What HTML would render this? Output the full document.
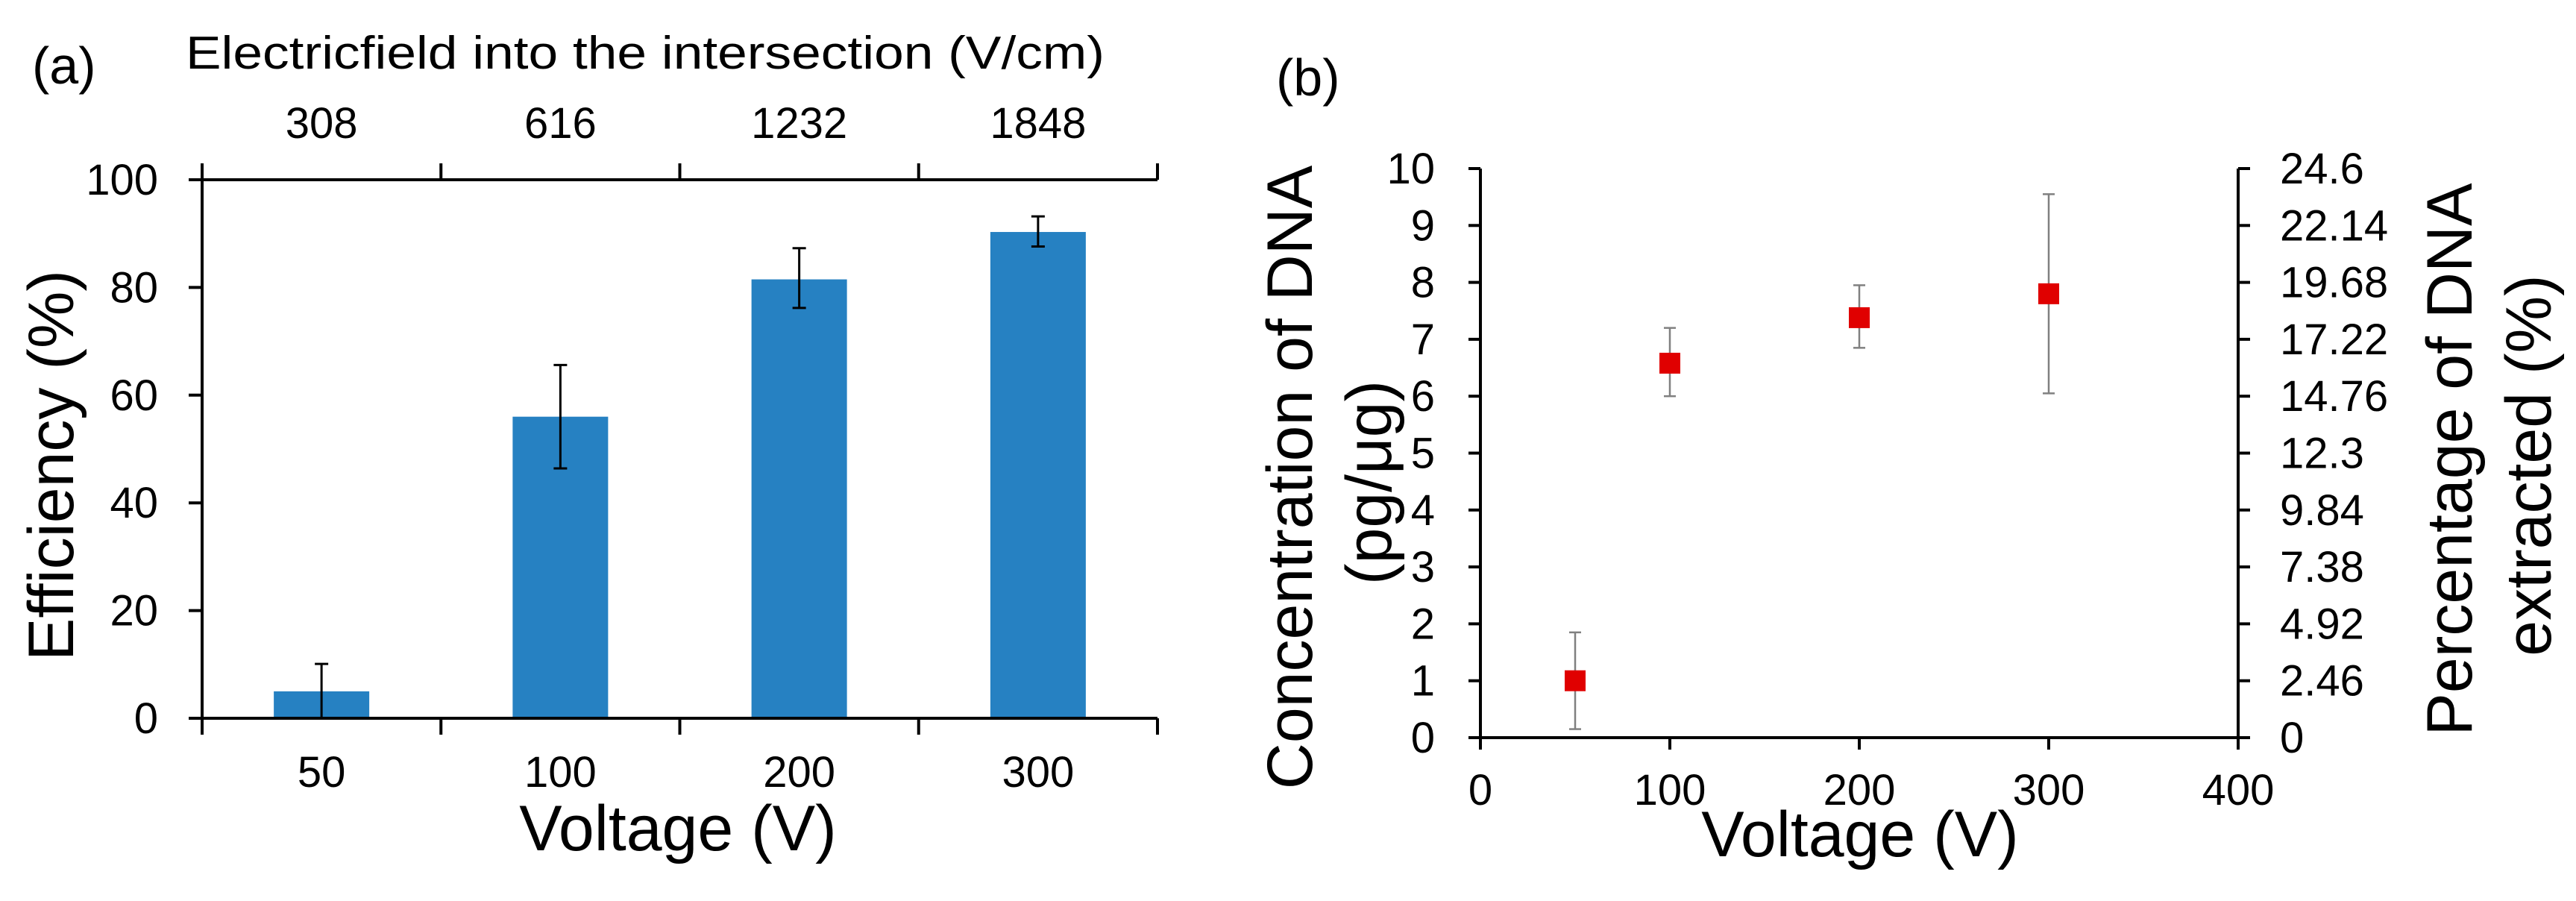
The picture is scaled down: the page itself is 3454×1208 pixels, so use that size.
<!DOCTYPE html>
<html><head><meta charset="utf-8"><style>
html,body{margin:0;padding:0;background:#fff;}
svg{display:block;font-family:"Liberation Sans",Arial,sans-serif;}
</style></head><body>
<svg id="fig" width="3454" height="1208" viewBox="0 0 3454 1208" xmlns="http://www.w3.org/2000/svg">
<g id="pa"></g>
<g id="pb"></g>
</svg>
<script>
// Panel (a) data
const aCategories = ["50","100","200","300"];
const aTopLabels = ["308","616","1232","1848"];
const aValues = [5, 56, 81.5, 90.3];
const aErrHigh = [10.1, 65.6, 87.3, 93.2];
const aErrLow = [0, 46.4, 76.2, 87.6];
const aYTicks = [0,20,40,60,80,100];
// Panel (b) data
const bX = [50,100,200,300];
const bY = [1.0, 6.58, 7.38, 7.8];
const bErrHigh = [1.85, 7.2, 7.95, 9.55];
const bErrLow = [0.15, 6.0, 6.85, 6.05];
const bXTicks = [0,100,200,300,400];
const bYTicks = [0,1,2,3,4,5,6,7,8,9,10];
const bY2Labels = ["0","2.46","4.92","7.38","9.84","12.3","14.76","17.22","19.68","22.14","24.6"];

const NS="http://www.w3.org/2000/svg";
function mk(parent,tag,attrs,text){const e=document.createElementNS(NS,tag);for(const k in attrs)e.setAttribute(k,attrs[k]);if(text!==undefined)e.textContent=text;parent.appendChild(e);return e;}

// ---- Panel A ----
const pa=document.getElementById('pa');
const aL=271,aR=1552,aT=241,aB=963;
const aBand=(aR-aL)/aCategories.length;
const ax=i=>aL+aBand*(i+0.5);
const ay=v=>aB-(v/100)*(aB-aT);
let t;
t=mk(pa,'text',{x:43,y:112,'font-size':70,fill:'#000'},'(a)');

t=mk(pa,'text',{x:249,y:92,'font-size':62,fill:'#000',textLength:1232,lengthAdjust:'spacingAndGlyphs'},'Electricfield into the intersection  (V/cm)');

aCategories.forEach((c,i)=>{
  const b=mk(pa,'rect',{x:ax(i)-64,y:ay(aValues[i]),width:128,height:aB-ay(aValues[i]),fill:'#2681c2'});
  
  const eg=mk(pa,'g',{stroke:'#000','stroke-width':3});
  
  mk(eg,'line',{x1:ax(i),x2:ax(i),y1:ay(aErrHigh[i]),y2:ay(aErrLow[i])});
  mk(eg,'line',{x1:ax(i)-9,x2:ax(i)+9,y1:ay(aErrHigh[i]),y2:ay(aErrHigh[i])});
  mk(eg,'line',{x1:ax(i)-9,x2:ax(i)+9,y1:ay(aErrLow[i]),y2:ay(aErrLow[i])});
  t=mk(pa,'text',{x:ax(i),y:1055,'font-size':58,'text-anchor':'middle'},c);
  
  t=mk(pa,'text',{x:ax(i),y:185,'font-size':58,'text-anchor':'middle'},aTopLabels[i]);
  
});
const aAx=mk(pa,'g',{stroke:'#000','stroke-width':4,fill:'none'});

mk(aAx,'line',{x1:aL,x2:aR,y1:aB,y2:aB});
mk(aAx,'line',{x1:aL,x2:aR,y1:aT,y2:aT});
mk(aAx,'line',{x1:aL,x2:aL,y1:aT-22,y2:aB+22});
for(let i=1;i<=aCategories.length;i++){const x=aL+aBand*i;mk(aAx,'line',{x1:x,x2:x,y1:aB,y2:aB+22});mk(aAx,'line',{x1:x,x2:x,y1:aT,y2:aT-22});}
aYTicks.forEach(v=>{
  mk(aAx,'line',{x1:aL-18,x2:aL,y1:ay(v),y2:ay(v)});
  t=mk(pa,'text',{x:212,y:ay(v)+20,'font-size':58,'text-anchor':'end'},String(v));
  
});
t=mk(pa,'text',{x:909,y:1140,'font-size':86,'text-anchor':'middle'},'Voltage  (V)');

t=mk(pa,'text',{x:0,y:0,'font-size':86,'text-anchor':'middle',transform:'translate(98,624) rotate(-90)'},'Efficiency  (%)');


// ---- Panel B ----
const pb=document.getElementById('pb');
const bL=1985,bR=3001,bT=226,bB=989;
const bx=v=>bL+(v/400)*(bR-bL);
const by=v=>bB-(v/10)*(bB-bT);
t=mk(pb,'text',{x:1711,y:128,'font-size':70},'(b)');

const bAx=mk(pb,'g',{stroke:'#000','stroke-width':4});

mk(bAx,'line',{x1:bL,x2:bR,y1:bB,y2:bB});
mk(bAx,'line',{x1:bL,x2:bL,y1:bT,y2:bB});
mk(bAx,'line',{x1:bR,x2:bR,y1:bT,y2:bB});
bYTicks.forEach((v,i)=>{
  mk(bAx,'line',{x1:bL-16,x2:bL,y1:by(v),y2:by(v)});
  mk(bAx,'line',{x1:bR,x2:bR+16,y1:by(v),y2:by(v)});
  t=mk(pb,'text',{x:1924,y:by(v)+20,'font-size':58,'text-anchor':'end'},String(v));
  
  t=mk(pb,'text',{x:3057,y:by(v)+20,'font-size':58},bY2Labels[i]);
  
});
bXTicks.forEach(v=>{
  mk(bAx,'line',{x1:bx(v),x2:bx(v),y1:bB,y2:bB+16});
  t=mk(pb,'text',{x:bx(v),y:1079,'font-size':58,'text-anchor':'middle'},String(v));
  
});
bX.forEach((xv,i)=>{
  const eg=mk(pb,'g',{stroke:'#808080','stroke-width':2.5});
  
  mk(eg,'line',{x1:bx(xv),x2:bx(xv),y1:by(bErrHigh[i]),y2:by(bErrLow[i])});
  mk(eg,'line',{x1:bx(xv)-8,x2:bx(xv)+8,y1:by(bErrHigh[i]),y2:by(bErrHigh[i])});
  mk(eg,'line',{x1:bx(xv)-8,x2:bx(xv)+8,y1:by(bErrLow[i]),y2:by(bErrLow[i])});
  const m=mk(pb,'rect',{x:bx(xv)-14,y:by(bY[i])-14,width:28,height:28,fill:'#e00000'});
  
});
t=mk(pb,'text',{x:2494,y:1148,'font-size':86,'text-anchor':'middle'},'Voltage  (V)');

t=mk(pb,'text',{x:0,y:0,'font-size':86,'text-anchor':'middle',transform:'translate(1759,640) rotate(-90)'},'Concentration  of  DNA');

t=mk(pb,'text',{x:0,y:0,'font-size':86,'text-anchor':'middle',transform:'translate(1865,647) rotate(-90)'},'(pg/μg)');

t=mk(pb,'text',{x:0,y:0,'font-size':86,'text-anchor':'middle',transform:'translate(3314,616) rotate(-90)'},'Percentage  of  DNA');

t=mk(pb,'text',{x:0,y:0,'font-size':86,'text-anchor':'middle',transform:'translate(3420,624) rotate(-90)'},'extracted  (%)');

</script>
</body></html>
